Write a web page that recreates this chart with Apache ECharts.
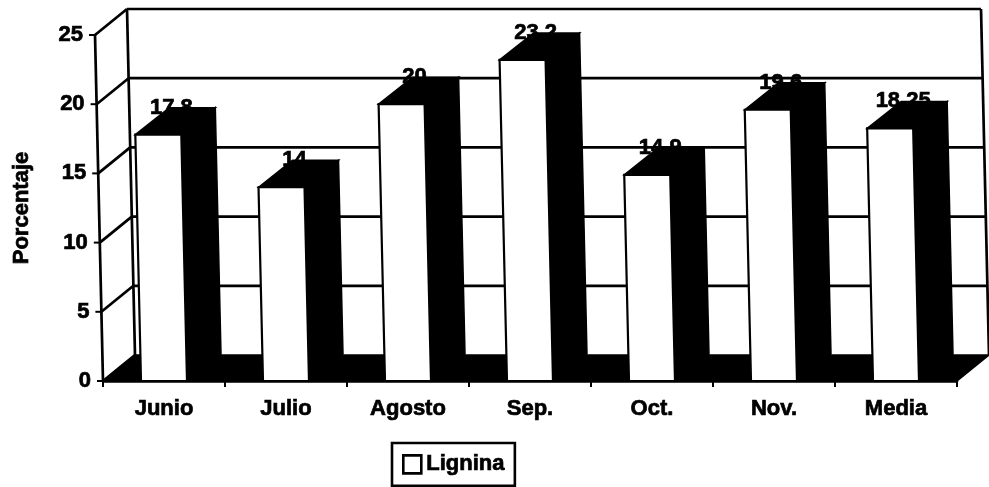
<!DOCTYPE html>
<html><head><meta charset="utf-8">
<style>html,body{margin:0;padding:0;background:#fff}#c{width:989px;height:487px}</style>
<script src="https://cdn.jsdelivr.net/npm/echarts@6/dist/echarts.min.js"></script>
</head><body><div id="c"></div>
<script>
const categories = ['Junio','Julio','Agosto','Sep.','Oct.','Nov.','Media'];
const lignina = [17.8,14,20,23.2,14.9,19.6,18.25];
const yTicks = [0,5,10,15,20,25];
const FONT = '"Liberation Sans", Arial, sans-serif';
const FS = 22;
const HEAVY = {textBorderColor:'#000', textBorderWidth:0.7};
const SHEAR = 0.0231, DX = 32, DY = -26, BAR = 0.377;
const LW = 2.7;

const chart = echarts.init(document.getElementById('c'), null, {renderer:'canvas'});
const rich = {};
yTicks.forEach(v => { rich['t'+v] = Object.assign({padding:[0, 0.32*v, 0, 0], fontFamily:FONT, fontWeight:'bold', fontSize:FS, color:'#000'}, HEAVY); });

function shear(p, y0){ return [p[0] - SHEAR*(y0 - p[1]), p[1]]; }
function line(a,b,w){ return {type:'line', shape:{x1:a[0],y1:a[1],x2:b[0],y2:b[1]}, style:{stroke:'#000', lineWidth:w||LW, fill:null}}; }
function poly(pts, fill, w){ return {type:'polygon', shape:{points:pts}, style:{fill:fill, stroke:'#000', lineWidth:w||1.5}}; }

function renderFrame(params, api){
  const v = api.value(1);
  const y0 = api.coord([0,0])[1];
  const cs = params.coordSys;
  const L = shear([cs.x, api.coord([0,v])[1]], y0);
  const R = shear([cs.x+cs.width, L[1]], y0);
  const bL = [L[0]+DX, L[1]+DY], bR = [R[0]+DX, R[1]+DY];
  const kids = [];
  if (v === 0) {
    kids.push(poly([L, bL, bR, R], '#000'));
    const t = shear([cs.x, cs.y], y0);
    kids.push(line(L, t));
    kids.push(line([t[0]+DX,t[1]+DY], bL));
    const tr = shear([cs.x+cs.width, cs.y], y0);
    kids.push(line([tr[0]+DX,tr[1]+DY], bR));
  } else {
    kids.push(line(bL, bR));
  }
  kids.push(line(L, bL));
  kids.push(line([L[0]-6, L[1]], L, 2));
  return {type:'group', children:kids};
}

function renderBars(params, api){
  const i = api.value(0), v = api.value(1);
  const w = api.size([1,0])[0]*BAR;
  const base = api.coord([i,0]), top = api.coord([i,v]);
  const y0 = base[1];
  const s = p => shear(p,y0);
  const bl = s([base[0]-w/2, base[1]]), br = s([base[0]+w/2, base[1]]);
  const tl = s([top[0]-w/2, top[1]]), tr = s([top[0]+w/2, top[1]]);
  const off = p => [p[0]+DX+2, p[1]+DY-1];
  return {type:'group', children:[
    poly([tl, off(tl), off(tr), tr], '#000'),
    poly([br, off(br), off(tr), tr], '#000'),
    {type:'text', style:{text:String(v), x:(tl[0]+tr[0])/2+13, y:top[1]-27, align:'center', verticalAlign:'middle',
      font:'bold '+FS+'px '+FONT, fill:'#000', stroke:'#000', lineWidth:0.7}},
    poly([bl, tl, tr, br], '#fff', 2.2)
  ]};
}

chart.setOption({
  animation:false,
  backgroundColor:'#fff',
  grid:{left:103, right:32, top:35, bottom:106, containLabel:false, outerBoundsMode:'none'},
  legend:{
    data:[{name:'Lignina', icon:'rect', itemStyle:{color:'#fff', borderColor:'#000', borderWidth:2.6}}],
    left:392, top:443, itemWidth:18, itemHeight:18, itemGap:0,
    padding:[10,10,10,10], borderColor:'#000', borderWidth:2.6,
    selectedMode:false,
    textStyle:Object.assign({fontFamily:FONT, fontWeight:'bold', fontSize:FS, color:'#000'}, HEAVY)
  },
  xAxis:{type:'category', data:categories, boundaryGap:true,
    axisLine:{show:true, lineStyle:{color:'#000', width:2.6}},
    axisTick:{show:true, alignWithLabel:false, length:6, lineStyle:{color:'#000', width:2}},
    axisLabel:Object.assign({color:'#000', fontFamily:FONT, fontWeight:'bold', fontSize:FS, margin:17}, HEAVY),
    splitLine:{show:false}},
  yAxis:{type:'value', min:0, max:25, interval:5,
    name:'Porcentaje', nameLocation:'middle', nameRotate:90, nameGap:70,
    nameTextStyle:Object.assign({color:'#000', fontFamily:FONT, fontWeight:'bold', fontSize:FS}, HEAVY),
    axisLine:{show:false}, axisTick:{show:false}, splitLine:{show:false},
    axisLabel:{margin:12, formatter:v => '{t'+v+'|'+v+'}', rich:rich}},
  series:[
    {type:'custom', name:'frame', coordinateSystem:'cartesian2d', clip:false, z:1,
     data:yTicks.map(v=>[0,v]), encode:{x:0,y:1}, renderItem:renderFrame, silent:true},
    {type:'custom', name:'Lignina', coordinateSystem:'cartesian2d', clip:false, z:3,
     data:lignina.map((v,i)=>[i,v]), encode:{x:0,y:1}, renderItem:renderBars,
     itemStyle:{color:'#fff', borderColor:'#000'}}
  ]
});
</script></body></html>
